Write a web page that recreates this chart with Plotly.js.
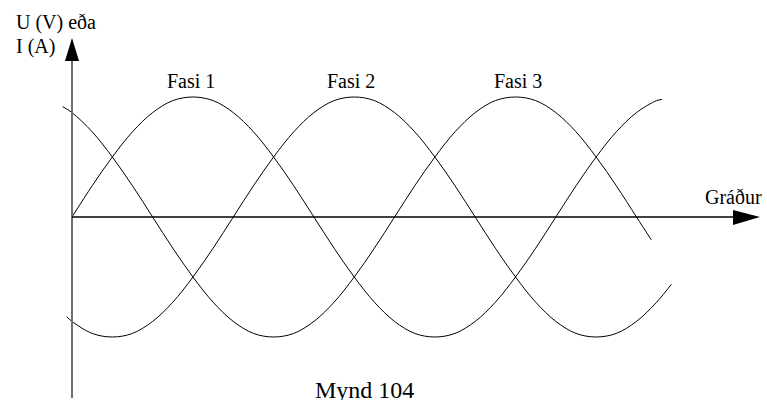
<!DOCTYPE html>
<html>
<head>
<meta charset="utf-8">
<script src="https://cdn.plot.ly/plotly-3.0.1.min.js"></script>
<style>
  html, body { margin: 0; padding: 0; background: #ffffff; }
  #chart { width: 767px; height: 400px; }
</style>
</head>
<body>
<div id="chart"></div>
<script>
// values (amplitude normalised to 1, x in degrees)
const phase1Deg = [0, 15, 30, 45, 60, 75, 90, 105, 120, 135, 150, 165, 180, 195, 210, 225, 240,
  255, 270, 285, 300, 315, 330, 345, 360, 375, 390, 405, 420, 435, 439];
const phase1Val = [0, 0.26, 0.5, 0.71, 0.87, 0.97, 1, 0.97, 0.87, 0.71, 0.5, 0.26, 0, -0.26, -0.5,
  -0.71, -0.87, -0.97, -1, -0.97, -0.87, -0.71, -0.5, -0.26, 0, 0.26, 0.5, 0.71, 0.87, 0.97, 0.98];

const phase2Deg = [-4, 0, 15, 30, 45, 60, 75, 90, 105, 120, 135, 150, 165, 180, 195, 210, 225,
  240, 255, 270, 285, 300, 315, 330, 345, 360, 375, 390, 405, 420, 435, 446];
const phase2Val = [-0.83, -0.87, -0.97, -1, -0.97, -0.87, -0.71, -0.5, -0.26, 0, 0.26, 0.5, 0.71,
  0.87, 0.97, 1, 0.97, 0.87, 0.71, 0.5, 0.26, 0, -0.26, -0.5, -0.71, -0.87, -0.97, -1, -0.97,
  -0.87, -0.71, -0.56];

const phase3Deg = [-7, 0, 15, 30, 45, 60, 75, 90, 105, 120, 135, 150, 165, 180, 195, 210, 225,
  240, 255, 270, 285, 300, 315, 330, 345, 360, 375, 390, 405, 420, 431];
const phase3Val = [0.92, 0.87, 0.71, 0.5, 0.26, 0, -0.26, -0.5, -0.71, -0.87, -0.97, -1, -0.97,
  -0.87, -0.71, -0.5, -0.26, 0, 0.26, 0.5, 0.71, 0.87, 0.97, 1, 0.97, 0.87, 0.71, 0.5, 0.26, 0,
  -0.19];

const phaseLabels = ["Fasi 1", "Fasi 2", "Fasi 3"];
const yLabel = ["U (V) eða", "I (A)"];
const xLabel = "Gráður";
const caption = "Mynd 104";

const W = 767;
const H = 400;
const X0 = 72;        // pixel of 0 degrees
const PX_PER_DEG = 1.344;
const Y0 = 217;       // pixel of value 0
const PX_PER_UNIT = 120;

function px(x) { return x / W; }
function py(y) { return 1 - y / H; }
function degAt(x) { return (x - X0) / PX_PER_DEG; }
function valAt(y) { return (Y0 - y) / PX_PER_UNIT; }

function curve(xs, ys) {
  return {
    type: "scatter",
    mode: "lines",
    x: xs,
    y: ys,
    line: { color: "#000000", width: 1, shape: "spline", smoothing: 1 },
    hoverinfo: "skip",
    showlegend: false,
  };
}

const traces = [
  curve(phase1Deg, phase1Val),
  curve(phase2Deg, phase2Val),
  curve(phase3Deg, phase3Val),
];

function label(text, x, y, anchor, size) {
  return {
    text: text,
    xref: "paper",
    yref: "paper",
    x: px(x),
    y: py(y),
    xanchor: anchor,
    yanchor: "middle",
    showarrow: false,
    font: { family: "Liberation Serif", size: size || 20, color: "#000000" },
  };
}

const shapes = [
  // vertical axis
  {
    type: "line", xref: "x", yref: "y",
    x0: 0, x1: 0, y0: valAt(398), y1: valAt(60),
    line: { color: "#707070", width: 2 },
  },
  {
    type: "path", xref: "x", yref: "y",
    path: "M 0," + valAt(38) + " L " + degAt(65) + "," + valAt(61) +
      " L " + degAt(79) + "," + valAt(61) + " Z",
    fillcolor: "#000000", line: { width: 0 },
  },
  // horizontal axis
  {
    type: "line", xref: "x", yref: "y",
    x0: 0, x1: degAt(734), y0: 0, y1: 0,
    line: { color: "#000000", width: 1.3 },
  },
  {
    type: "path", xref: "x", yref: "y",
    path: "M " + degAt(760) + ",0 L " + degAt(733) + "," + valAt(210) +
      " L " + degAt(733) + "," + valAt(225) + " Z",
    fillcolor: "#000000", line: { width: 0 },
  },
];

const annotations = [
  label(yLabel[0], 14, 22, "left"),
  label(yLabel[1], 14, 46, "left"),
  label(phaseLabels[0], 191, 81, "center"),
  label(phaseLabels[1], 351, 81, "center"),
  label(phaseLabels[2], 518, 81, "center"),
  label(xLabel, 733, 197, "center"),
  label(caption, 364, 390, "center", 24),
];

const layout = {
  width: W,
  height: H,
  margin: { l: 0, r: 0, t: 0, b: 0, pad: 0 },
  paper_bgcolor: "#ffffff",
  plot_bgcolor: "#ffffff",
  showlegend: false,
  xaxis: { range: [degAt(0), degAt(W)], visible: false, fixedrange: true },
  yaxis: { range: [valAt(H), valAt(0)], visible: false, fixedrange: true },
  shapes: shapes,
  annotations: annotations,
};

Plotly.newPlot("chart", traces, layout, { displayModeBar: false, staticPlot: true });
</script>
</body>
</html>
